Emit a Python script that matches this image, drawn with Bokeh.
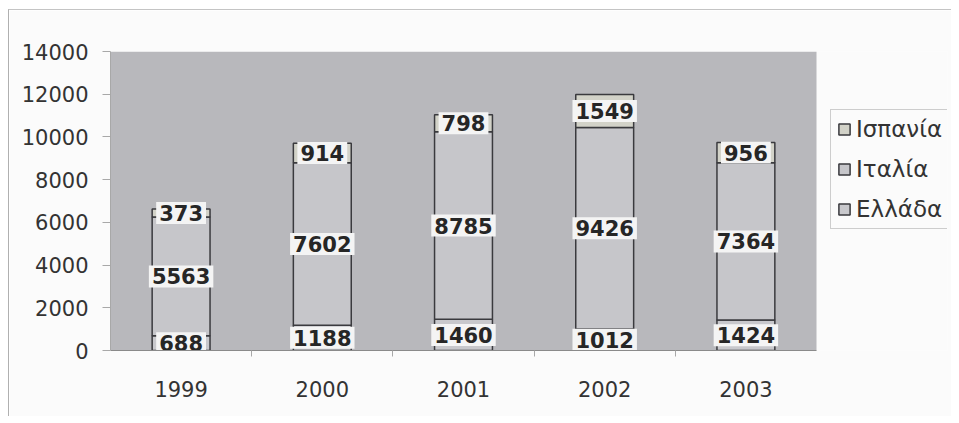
from bokeh.plotting import figure
from bokeh.models import (ColumnDataSource, Range1d, Legend, LegendItem,
                          FixedTicker, BoxAnnotation)
from bokeh.embed import file_html
from bokeh.resources import INLINE
from bokeh.core.properties import value

years = ["1999", "2000", "2001", "2002", "2003"]
series = ["Ελλάδα", "Ιταλία", "Ισπανία"]
greece = [688, 1188, 1460, 1012, 1424]
italy = [5563, 7602, 8785, 9426, 7364]
spain = [373, 914, 798, 1549, 956]
y_ticks = [0, 2000, 4000, 6000, 8000, 10000, 12000, 14000]

colors = {"Ελλάδα": "#c8c8cc", "Ιταλία": "#c6c6ca", "Ισπανία": "#d2d2c8"}

FONT = "DejaVu Sans"
W, H = 943, 407
LEFT, TOP, BOTTOM, RIGHT = 101, 41, 67, 5
PLOT_W = 706  # width of the grey plot area in pixels
FRAME_W = W - LEFT - RIGHT
n = len(years)
xpos = [i + 0.5 for i in range(n)]

data = {"x": xpos, "year": years, "Ελλάδα": greece, "Ιταλία": italy, "Ισπανία": spain}
src = ColumnDataSource(data)

p = figure(x_range=Range1d(0, n * FRAME_W / PLOT_W), y_range=Range1d(0, 14000),
           width=W, height=H, output_backend="svg", toolbar_location=None,
           min_border_left=LEFT, min_border_top=TOP, min_border_bottom=BOTTOM,
           min_border_right=RIGHT)
p.styles = {"margin-left": "8px", "margin-top": "9px",
            "border-left": "1px solid #b0b0b0", "border-top": "1px solid #c4c4c4"}

p.background_fill_color = "#fbfbfb"
p.border_fill_color = "#fbfbfb"
p.outline_line_color = None
p.xgrid.grid_line_color = None
p.ygrid.grid_line_color = None

# grey plot area over the categories only
p.add_layout(BoxAnnotation(left=0, right=n, bottom=0, top=14000,
                           fill_color="#b8b8bc", fill_alpha=1.0,
                           line_color=None, level="underlay"))

renderers = p.vbar_stack(series, x="x", width=0.41, source=src,
                         fill_color=[colors[s] for s in series],
                         line_color="#3a3a3e", line_width=1.5)

# labels centred on each segment
lab_x, lab_y, lab_t = [], [], []
for i in range(n):
    base = 0
    for vals in (greece, italy, spain):
        v = vals[i]
        lab_x.append(xpos[i])
        lab_y.append(base + v / 2)
        lab_t.append(str(v))
        base += v
lsrc = ColumnDataSource(dict(x=lab_x, y=lab_y, t=lab_t))
p.text(x="x", y="y", text="t", source=lsrc,
       text_align="center", text_baseline="middle",
       text_font=value(FONT), text_font_style="bold",
       text_font_size="21px", text_color="#262626",
       background_fill_color="#f4f4f4", background_fill_alpha=1.0,
       padding=3)

# axes
p.yaxis.ticker = FixedTicker(ticks=y_ticks)
p.yaxis.major_label_text_font = FONT
p.yaxis.major_label_text_font_size = "21px"
p.yaxis.major_label_text_color = "#333333"
p.yaxis.axis_line_color = "#a8a8a8"
p.yaxis.major_tick_line_color = "#a8a8a8"
p.yaxis.major_tick_out = 8
p.yaxis.major_tick_in = 0
p.yaxis.minor_tick_line_color = None
p.yaxis.major_label_standoff = 14

p.xaxis.ticker = FixedTicker(ticks=xpos, minor_ticks=list(range(1, n)))
p.xaxis.major_label_overrides = {x: y for x, y in zip(xpos, years)}
p.xaxis.bounds = (0, n)
p.xaxis.major_label_text_font = FONT
p.xaxis.major_label_text_font_size = "21px"
p.xaxis.major_label_text_color = "#333333"
p.xaxis.axis_line_color = "#8a8a8a"
p.xaxis.major_tick_line_color = None
p.xaxis.minor_tick_line_color = "#a8a8a8"
p.xaxis.minor_tick_out = 6
p.xaxis.minor_tick_in = 0
p.xaxis.major_label_standoff = 24

# legend (reverse order: Spain on top)
items = [LegendItem(label=s, renderers=[r]) for s, r in zip(series, renderers)][::-1]
legend = Legend(items=items, location=(720, 121),
                label_text_font=FONT, label_text_font_size="23px",
                label_text_color="#333333", glyph_width=14, glyph_height=14,
                label_standoff=5, spacing=14, padding=6, margin=0,
                border_line_color="#a0a0a0", background_fill_color="#fbfbfb",
                label_height=24)
p.add_layout(legend)

open("out.html", "w").write(file_html(p, INLINE))
